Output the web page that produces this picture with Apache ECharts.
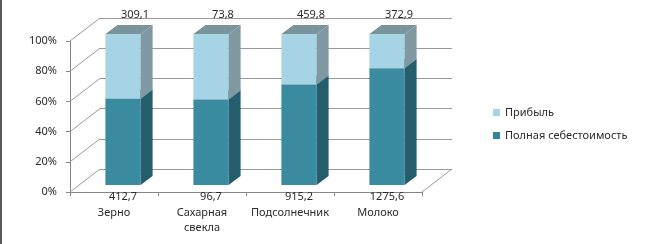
<!DOCTYPE html>
<html>
<head>
<meta charset="utf-8">
<script src="https://cdn.jsdelivr.net/npm/echarts@6/dist/echarts.min.js"></script>
<style>
html,body{margin:0;padding:0;background:#fff;}
#wrap{position:relative;width:646px;height:244px;}
#chart{width:646px;height:244px;}
#edge{position:absolute;left:0;top:0;width:2px;height:244px;background:#5a5a5a;}
</style>
</head>
<body>
<div id="wrap"><div id="chart"></div><div id="edge"></div></div>
<script>
const categories = ['Зерно', 'Сахарная\nсвекла', 'Подсолнечник', 'Молоко'];
const costValues = [412.7, 96.7, 915.2, 1275.6];
const profitValues = [309.1, 73.8, 459.8, 372.9];
const yTicks = [0, 20, 40, 60, 80, 100];
const seriesNames = ['Полная себестоимость', 'Прибыль'];

const DX = 30, DY = 23;           // wall depth in px
const F = 0.3, B = 0.7;           // bar depth range
const FONT = 'Noto Sans';
const TXT = '#2b2b2b';

const front = {left: 70, top: 41, right: 224, bottom: 52};
const back = {left: front.left + DX, top: front.top - DY, right: front.right - DX, bottom: front.bottom + DY};

const fmt = v => String(v).replace('.', ',');

const costData = categories.map((c, i) => {
  const tot = costValues[i] + profitValues[i];
  return [i, 0, costValues[i] / tot * 100, costValues[i]];
});
const profitData = categories.map((c, i) => {
  const tot = costValues[i] + profitValues[i];
  return [i, costValues[i] / tot * 100, 100, profitValues[i]];
});

function boxRenderer(colors, labelPos) {
  return function (params, api) {
    const idx = api.value(0), s = api.value(1), e = api.value(2), raw = api.value(3);
    const pb = api.coord([idx, s]);
    const pt = api.coord([idx, e]);
    const bw = api.size([1, 0])[0] * 0.4;
    const x0 = pb[0] - bw / 2 + F * DX, x1 = x0 + bw;
    const yb = pb[1] - F * DY, yt = pt[1] - F * DY;
    const ox = (B - F) * DX, oy = -(B - F) * DY;
    const children = [
      {type: 'rect', shape: {x: x0, y: yt, width: bw, height: yb - yt}, style: {fill: colors.front}},
      {type: 'polygon', shape: {points: [[x1, yt], [x1 + ox, yt + oy], [x1 + ox, yb + oy], [x1, yb]]}, style: {fill: colors.side}},
      {type: 'polygon', shape: {points: [[x0, yt], [x1, yt], [x1 + ox, yt + oy], [x0 + ox, yt + oy]]}, style: {fill: colors.top}}
    ];
    let tx, ty;
    if (labelPos === 'bottom') { tx = x0 + bw / 2; ty = yb + 12; }
    else { tx = x0 + bw / 2 + ox; ty = yt + oy - 10; }
    children.push({type: 'text', style: {text: fmt(raw), x: tx, y: ty, align: 'center', verticalAlign: 'middle',
      fill: TXT, font: '11px "' + FONT + '"'}, z2: 10});
    return {type: 'group', children: children};
  };
}

const chart = echarts.init(document.getElementById('chart'), null, {renderer: 'canvas'});
chart.setOption({
  animation: false,
  backgroundColor: '#fff',
  textStyle: {fontFamily: FONT},
  grid: [
    Object.assign({}, front),
    Object.assign({}, back)
  ],
  legend: {
    orient: 'vertical', left: 488, top: 102, itemWidth: 7, itemHeight: 7, itemGap: 12,
    icon: 'rect',
    data: ['Прибыль', 'Полная себестоимость'],
    textStyle: {fontSize: 11, color: TXT, fontFamily: FONT}
  },
  xAxis: [
    {type: 'category', gridIndex: 0, data: categories,
      axisLine: {show: true, lineStyle: {color: '#868686'}},
      axisTick: {show: true, length: 4, lineStyle: {color: '#868686'}},
      axisLabel: {color: TXT, fontSize: 11, margin: 13, lineHeight: 15, interval: 0, fontFamily: FONT},
      splitLine: {show: false}},
    {type: 'category', gridIndex: 1, data: categories, show: false}
  ],
  yAxis: [
    {type: 'value', gridIndex: 0, min: 0, max: 100, interval: 20,
      axisLine: {show: true, lineStyle: {color: '#868686'}},
      axisTick: {show: true, length: 4, lineStyle: {color: '#868686'}},
      axisLabel: {formatter: '{value}%', color: TXT, fontSize: 11, margin: 13, fontFamily: FONT},
      splitLine: {show: false}},
    {type: 'value', gridIndex: 1, min: 0, max: 100, interval: 20,
      axisLine: {show: false}, axisTick: {show: false}, axisLabel: {show: false},
      splitLine: {show: true, lineStyle: {color: '#9a9a9a'}}}
  ],
  series: [
    {type: 'custom', name: 'walls', xAxisIndex: 0, yAxisIndex: 0, silent: true, z: 1,
      data: yTicks.map(v => [0, v]),
      renderItem: function (params, api) {
        const cs = params.coordSys;
        const y = api.coord([0, api.value(1)])[1];
        const kids = [{type: 'line', shape: {x1: cs.x, y1: y, x2: cs.x + DX, y2: y - DY},
          style: {stroke: '#9a9a9a', lineWidth: 1}}];
        if (api.value(1) === 0) {
          kids.push({type: 'line', shape: {x1: cs.x + cs.width, y1: y, x2: cs.x + cs.width + DX, y2: y - DY},
            style: {stroke: '#9a9a9a', lineWidth: 1}});
        }
        return {type: 'group', children: kids};
      }},
    {type: 'custom', name: seriesNames[0], xAxisIndex: 0, yAxisIndex: 0, z: 3,
      itemStyle: {color: '#31859c'},
      data: costData,
      renderItem: boxRenderer({front: '#3a8ba0', side: '#245e6c', top: '#2f7385'}, 'bottom')},
    {type: 'custom', name: seriesNames[1], xAxisIndex: 0, yAxisIndex: 0, z: 4,
      itemStyle: {color: '#a6d4e4'},
      data: profitData,
      renderItem: boxRenderer({front: '#a6d4e4', side: '#7f98a2', top: '#7a949b'}, 'top')}
  ]
});
</script>
</body>
</html>
